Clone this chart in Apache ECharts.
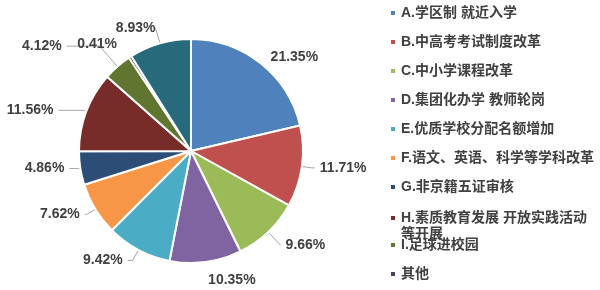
<!DOCTYPE html>
<html>
<head>
<meta charset="utf-8">
<script src="https://cdn.jsdelivr.net/npm/echarts@6/dist/echarts.min.js"></script>
<style>
  html, body { margin: 0; padding: 0; background: #fff; }
  #chart { width: 600px; height: 290px; }
</style>
</head>
<body>
<div id="chart"></div>
<script>
// Survey shares (%) per reform topic, clockwise from 12 o'clock
const categories = [
  'A.学区制 就近入学',
  'B.中高考考试制度改革',
  'C.中小学课程改革',
  'D.集团化办学 教师轮岗',
  'E.优质学校分配名额增加',
  'F.语文、英语、科学等学科改革',
  'G.非京籍五证审核',
  'H.素质教育发展 开放实践活动等开展',
  'I.足球进校园',
  '其他',
  'J'
];
const shares = [21.35, 11.71, 9.66, 10.35, 9.42, 7.62, 4.86, 11.56, 4.12, 0.41, 8.93];
const colors = ['#4F81BD', '#C0504D', '#9BBB59', '#8064A2', '#4BACC6', '#F79646',
                '#2C4D75', '#772C2A', '#5F7530', '#4D3B62', '#276A7C'];

// Leader-line segment lengths per slice: [radial, horizontal], and whether the line is drawn
const leaderLengths = [[8, 0], [10, 3], [18, 0], [18, 0], [12, 5], [10, 2],
                       [2, 9], [3, 25], [27, 33], [15, 0], [16, 0]];
const leaderVisible = [false, true, true, false, true, true, true, true, true, false, true];
// Gap between line end and label text
const labelGap = [5, 5, 5, 0, 5, 5, 5, 5, 5, 5, 0];

const chart = echarts.init(document.getElementById('chart'), null, { renderer: 'canvas' });

const legendText = {
  color: '#404040',
  fontSize: 14,
  fontWeight: 'bold',
  fontFamily: '"Liberation Sans", "Noto Sans CJK SC", sans-serif',
  lineHeight: 16,
  width: 197,
  overflow: 'break'
};
const legendBase = {
  orient: 'vertical',
  left: 389,
  padding: 0,
  itemWidth: 6,
  itemHeight: 6,
  itemGap: 13,
  icon: 'rect',
  selectedMode: false,
  textStyle: legendText
};

chart.setOption({
  animation: false,
  color: colors,
  legend: [
    Object.assign({}, legendBase, { top: 5, height: 200, data: categories.slice(0, 7) }),
    // two-line entry: square marker kept level with the first text line
    Object.assign({}, legendBase, {
      top: 209,
      itemHeight: 32,
      icon: 'path://M0,0h6v0h-6z M0,5h6v6h-6z M0,32h6v0h-6z',
      data: [categories[7]]
    }),
    Object.assign({}, legendBase, { top: 237, height: 60, data: categories.slice(8, 10) })
  ],
  series: [{
    type: 'pie',
    center: [191, 151],
    radius: [0, 112],
    startAngle: 90,
    clockwise: true,
    avoidLabelOverlap: false,
    minShowLabelAngle: 0,
    itemStyle: { borderColor: '#fff', borderWidth: 2 },
    label: {
      show: true,
      position: 'outside',
      formatter: p => p.value.toFixed(2) + '%',
      color: '#404040',
      fontSize: 14,
      fontWeight: 'bold',
      fontFamily: '"Liberation Sans", Arial, sans-serif'
    },
    labelLine: {
      show: true,
      lineStyle: { color: '#A6A6A6', width: 1 }
    },
    data: categories.map((name, i) => ({
      name: name,
      value: shares[i],
      label: { distanceToLabelLine: labelGap[i] },
      labelLine: {
        show: leaderVisible[i],
        length: leaderLengths[i][0],
        length2: leaderLengths[i][1]
      }
    }))
  }]
});
</script>
</body>
</html>
